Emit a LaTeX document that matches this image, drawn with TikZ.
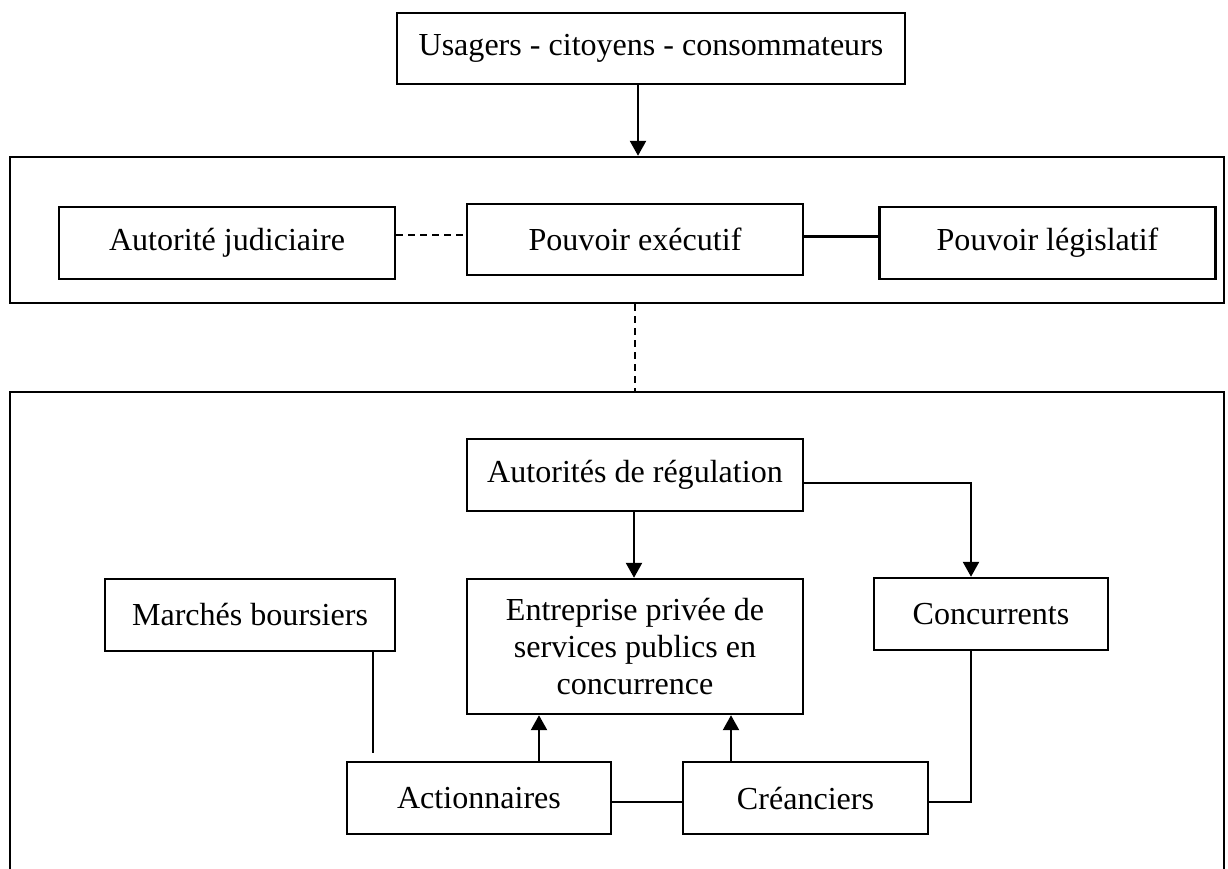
\documentclass[tikz,border=0pt]{standalone}
\usepackage{fontspec}
\setmainfont{Liberation Serif}
\usepackage{tikz}
\usetikzlibrary{arrows.meta,positioning,calc}

\tikzset{
  box/.style={draw, line width=0.06cm, inner sep=0pt, align=center,
    minimum width=8.4cm, minimum height=1.8cm,
    font=\fontsize{22.8}{26.5}\selectfont},
  arr/.style={-{Triangle[length=0.375cm,width=0.4cm]}},
  dashline/.style={dash pattern=on 0.18cm off 0.12cm}
}

\begin{document}
\begin{tikzpicture}[x=0.025cm,y=-0.025cm,line width=0.06cm]
		\useasboundingbox (0,0) rectangle (1228,868);
		% top
		\node[box,minimum width=12.7cm,minimum height=1.775cm] (usagers) at (651,48.5) {Usagers - citoyens - consommateurs};
		\node[draw,inner sep=0pt,minimum width=30.35cm,minimum height=3.65cm] (pouvoirs) at (617,230) {};
		\node[box] (judiciaire) at (227,243) {Autorité judiciaire};
		\node[box,minimum height=1.775cm] (executif) at (635,239.5) {Pouvoir exécutif};
		\node[box] (legislatif) at (1047.5,243) {Pouvoir législatif};
		% bottom frame, open at the bottom
		\draw (10,872) -- (10,392) -- (1224,392) -- (1224,872);
		\coordinate (cadre) at (617,392);
		\node[box] (autorites) at (635,475) {Autorités de régulation};
		\node[box,minimum height=3.375cm] (entreprise) at (635,646.5) {Entreprise privée de\\services publics en\\concurrence};
		\node[box,minimum width=7.25cm] (marches) at (250,615) {Marchés boursiers};
		\node[box,minimum width=5.85cm] (concurrents) at (991,614) {Concurrents};
		\node[box,minimum width=6.6cm] (actionnaires) at (479,798) {Actionnaires};
		\node[box,minimum width=6.125cm] (creanciers) at (805.5,798) {Créanciers};
		% x of the connectors
		\coordinate (xu) at (638,0);
		\coordinate (xv) at (635,0);
		\coordinate (xa) at (634,0);
		\coordinate (xc) at (971,0);
		\coordinate (xm) at (373,0);
		\coordinate (xb) at (539,0);
		\coordinate (xd) at (731,0);
		\coordinate (mend) at (373,753);
		\draw[arr] (usagers.south -| xu) -- (pouvoirs.north -| xu);
		\coordinate (jd) at ($(judiciaire.east)+(0,-8)$);
		\draw[dashline] (jd) -- (jd -| executif.west);
		\coordinate (el) at ($(executif.east)+(0,-3)$);
		\draw (el) -- (el -| legislatif.west);
		\draw[dashline] (pouvoirs.south -| xv) -- (cadre -| xv);
		\draw[arr] (autorites.south -| xa) -- (entreprise.north -| xa);
		\draw[arr] ($(autorites.east)+(0,8)$) -| (concurrents.north -| xc);
		\draw (marches.south -| xm) -- (mend);
		\draw[arr] (actionnaires.north -| xb) -- (entreprise.south -| xb);
		\draw[arr] (creanciers.north -| xd) -- (entreprise.south -| xd);
		\draw ($(actionnaires.east)+(0,4)$) -- ($(creanciers.west)+(0,4)$);
		\draw (concurrents.south -| xc) |- ($(creanciers.east)+(0,4)$);
\end{tikzpicture}
\end{document}
